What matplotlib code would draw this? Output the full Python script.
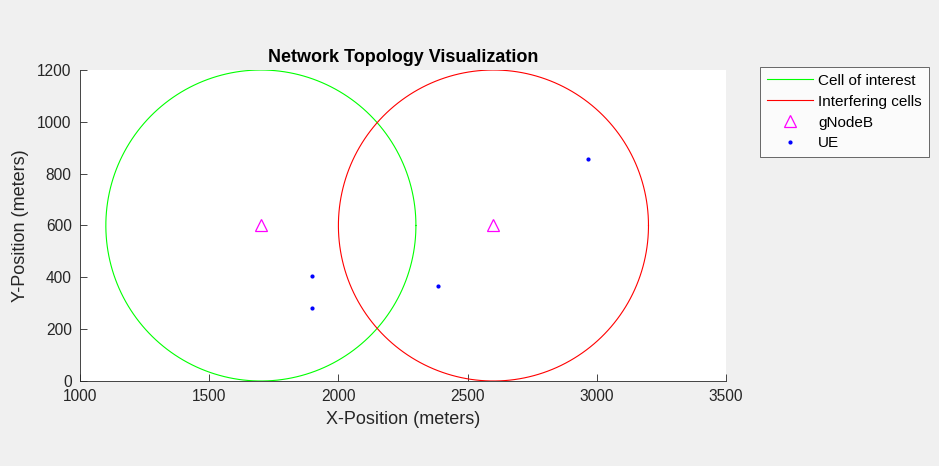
import matplotlib.pyplot as plt
import numpy as np

plt.rcParams['font.family'] = ['Liberation Sans', 'DejaVu Sans']

# cell layout
cell_x = [1700, 2600]
cell_y = [600, 600]
cell_radius = 600
cell_colors = ['#00ff00', '#ff0000']
cell_labels = ['Cell of interest', 'Interfering cells']

# UE positions
ue_x = [1896, 1896, 2385, 2966]
ue_y = [405, 282, 366, 856]

fig = plt.figure(figsize=(9.39, 4.66), dpi=100, facecolor='#f0f0f0')
ax = fig.add_axes([80 / 939, 1 - 381 / 466, 646 / 939, 311 / 466])

theta = np.linspace(0, 2 * np.pi, 400)
for cx, cy, col, lab in zip(cell_x, cell_y, cell_colors, cell_labels):
    ax.plot(cx + cell_radius * np.cos(theta), cy + cell_radius * np.sin(theta),
            color=col, lw=0.8, label=lab)

ax.plot(cell_x, cell_y, '^', color='#ff00ff', mfc='none', ms=8, mew=0.9,
        ls='none', label='gNodeB')
ax.plot(ue_x, ue_y, '.', color='#0000ff', ms=4, ls='none', label='UE')

ax.set_xlim(1000, 3500)
ax.set_ylim(0, 1200)
ax.set_xticks(np.arange(1000, 3501, 500))
ax.set_yticks(np.arange(0, 1201, 200))
ax.tick_params(direction='in', labelsize=11.2, length=5, width=0.6, colors='#262626')
ax.tick_params(axis='x', pad=6)
ax.tick_params(axis='y', pad=6)
for s in ['top', 'right']:
    ax.spines[s].set_visible(False)
for s in ['left', 'bottom']:
    ax.spines[s].set_color('#262626')
    ax.spines[s].set_linewidth(0.6)

ax.set_xlabel('X-Position (meters)', fontsize=13, color='#262626', labelpad=5)
ax.set_ylabel('Y-Position (meters)', fontsize=13, color='#262626', labelpad=6)
ax.set_title('Network Topology Visualization', fontsize=13, fontweight='bold', pad=6)

leg = ax.legend(loc='upper left', bbox_to_anchor=(1.053, 1.01), fontsize=11,
                frameon=True, fancybox=False, edgecolor='#262626',
                handlelength=3.0, borderpad=0.45, labelspacing=0.45,
                handletextpad=0.35, borderaxespad=0)
leg.get_frame().set_linewidth(0.6)

fig.savefig('out.png', dpi=100, facecolor=fig.get_facecolor())
